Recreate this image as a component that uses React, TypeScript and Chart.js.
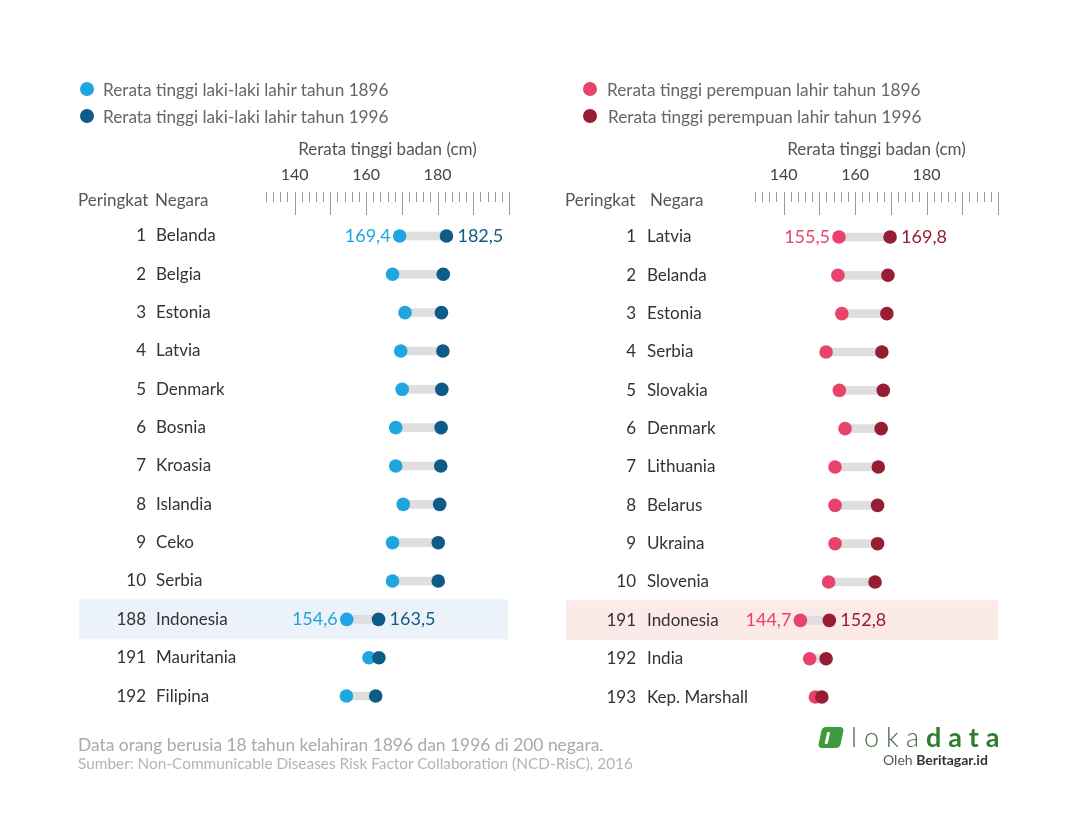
import React, { useEffect, useRef } from "react";
import { Chart, registerables } from "chart.js";

Chart.register(...registerables);

const FONT = "Lato, 'Open Sans', sans-serif";

// ---------- Data: men (left panel) ----------
const menRanks = [1, 2, 3, 4, 5, 6, 7, 8, 9, 10, 188, 191, 192];
const menCountries = ["Belanda", "Belgia", "Estonia", "Latvia", "Denmark", "Bosnia", "Kroasia", "Islandia", "Ceko", "Serbia", "Indonesia", "Mauritania", "Filipina"];
const men1896 = [169.4, 167.4, 170.9, 169.7, 170.1, 168.3, 168.3, 170.4, 167.4, 167.4, 154.6, 160.8, 154.5];
const men1996 = [182.5, 181.6, 181.1, 181.5, 181.2, 181.0, 180.9, 180.6, 180.2, 180.2, 163.5, 163.6, 162.7];
const menLabelled = ["Belanda", "Indonesia"];

// ---------- Data: women (right panel) ----------
const womenRanks = [1, 2, 3, 4, 5, 6, 7, 8, 9, 10, 191, 192, 193];
const womenCountries = ["Latvia", "Belanda", "Estonia", "Serbia", "Slovakia", "Denmark", "Lithuania", "Belarus", "Ukraina", "Slovenia", "Indonesia", "India", "Kep. Marshall"];
const women1896 = [155.5, 155.2, 156.3, 151.9, 155.6, 157.2, 154.4, 154.4, 154.4, 152.6, 144.7, 147.3, 148.9];
const women1996 = [169.8, 169.2, 168.9, 167.5, 167.9, 167.3, 166.5, 166.3, 166.3, 165.6, 152.8, 151.9, 150.7];
const womenLabelled = ["Latvia", "Indonesia"];

// ---------- Axis ----------
const axisMin = 132;
const axisMax = 200;
const minorStep = 2;
const majorStep = 10;
const tickLabels = [140, 160, 180];
const axisTitle = "Rerata tinggi badan (cm)";
const highlightCountry = "Indonesia";

const legendMen = ["Rerata tinggi laki-laki lahir tahun 1896", "Rerata tinggi laki-laki lahir tahun 1996"];
const legendWomen = ["Rerata tinggi perempuan lahir tahun 1896", "Rerata tinggi perempuan lahir tahun 1996"];

const W = 1079;
const H = 824;

type Panel = {
  ranks: number[];
  countries: string[];
  v1896: number[];
  v1996: number[];
  labelled: string[];
  light: string;
  dark: string;
  band: string;
  area: { left: number; right: number; top: number; bottom: number };
  bandLeft: number;
  bandRight: number;
  rankRight: number;
  countryLeft: number;
};

const fmt = (v: number) => v.toFixed(1).replace(".", ",");

function makePlugin(p: Panel) {
  return {
    id: "panelDecor",
    beforeDatasetsDraw(chart: any) {
      const ctx = chart.ctx;
      const y = chart.scales.y;
      const idx = p.countries.indexOf(highlightCountry);
      const cy = y.getPixelForValue(idx);
      ctx.save();
      ctx.fillStyle = p.band;
      ctx.fillRect(p.bandLeft, cy - 20, p.bandRight - p.bandLeft, 40);
      ctx.restore();
    },
    afterDatasetsDraw(chart: any) {
      const ctx = chart.ctx;
      const x = chart.scales.x;
      const y = chart.scales.y;
      ctx.save();
      // ruler
      ctx.strokeStyle = "#9a9a9a";
      ctx.lineWidth = 1;
      for (let v = axisMin; v <= axisMax + 0.001; v += minorStep) {
        const px = Math.round(x.getPixelForValue(v)) + 0.5;
        const major = Math.abs(v % majorStep) < 0.001;
        ctx.beginPath();
        ctx.moveTo(px, 192);
        ctx.lineTo(px, major ? 215 : 202);
        ctx.stroke();
      }
      ctx.fillStyle = "#444";
      ctx.font = `16px ${FONT}`;
      ctx.textAlign = "center";
      ctx.textBaseline = "middle";
      tickLabels.forEach((t) => ctx.fillText(String(t), x.getPixelForValue(t), 175));
      ctx.fillStyle = "#555";
      ctx.font = `17px ${FONT}`;
      ctx.fillText(axisTitle, (x.left + x.right) / 2, 150);

      // rows
      p.countries.forEach((c, i) => {
        const cy = y.getPixelForValue(i);
        ctx.font = `17px ${FONT}`;
        ctx.fillStyle = "#333";
        ctx.textAlign = "right";
        ctx.fillText(String(p.ranks[i]), p.rankRight, cy);
        ctx.textAlign = "left";
        ctx.fillText(c, p.countryLeft, cy);
        if (p.labelled.includes(c)) {
          ctx.font = `18px ${FONT}`;
          ctx.fillStyle = p.light;
          ctx.textAlign = "right";
          ctx.fillText(fmt(p.v1896[i]), x.getPixelForValue(p.v1896[i]) - 9, cy);
          ctx.fillStyle = p.dark;
          ctx.textAlign = "left";
          ctx.fillText(fmt(p.v1996[i]), x.getPixelForValue(p.v1996[i]) + 11, cy);
        }
      });
      ctx.restore();
    },
  };
}

function buildChart(canvas: HTMLCanvasElement, p: Panel) {
  return new Chart(canvas, {
    type: "bar",
    data: {
      labels: p.countries,
      datasets: [
        {
          type: "line",
          label: "1996",
          indexAxis: "y",
          data: p.v1996.map((v, i) => ({ x: v, y: p.countries[i] })),
          showLine: false,
          pointRadius: 6.8,
          pointBorderWidth: 0,
          pointBackgroundColor: p.dark,
          backgroundColor: p.dark,
          borderColor: p.dark,
          order: 0,
        } as any,
        {
          type: "line",
          label: "1896",
          indexAxis: "y",
          data: p.v1896.map((v, i) => ({ x: v, y: p.countries[i] })),
          showLine: false,
          pointRadius: 6.8,
          pointBorderWidth: 0,
          pointBackgroundColor: p.light,
          backgroundColor: p.light,
          borderColor: p.light,
          order: 1,
        } as any,
        {
          type: "bar",
          label: "range",
          data: p.v1896.map((v, i) => [v, p.v1996[i]]),
          backgroundColor: "#dedede",
          borderWidth: 0,
          barThickness: 8,
          order: 2,
        } as any,
      ],
    },
    options: {
      indexAxis: "y",
      animation: false,
      responsive: false,
      maintainAspectRatio: false,
      events: [],
      layout: {
        padding: {
          left: p.area.left,
          right: W - p.area.right,
          top: p.area.top,
          bottom: H - p.area.bottom,
        },
      },
      scales: {
        x: { type: "linear", min: axisMin, max: axisMax, display: false },
        y: { type: "category", display: false, offset: true },
      },
      plugins: { legend: { display: false }, tooltip: { enabled: false } },
    } as any,
    plugins: [makePlugin(p)],
  });
}

const menPanel: Panel = {
  ranks: menRanks,
  countries: menCountries,
  v1896: men1896,
  v1996: men1996,
  labelled: menLabelled,
  light: "#1fa6e0",
  dark: "#0d5b86",
  band: "#ecf2f9",
  area: { left: 266, right: 509, top: 216.8, bottom: 715.2 },
  bandLeft: 79,
  bandRight: 508,
  rankRight: 146,
  countryLeft: 156,
};

const womenPanel: Panel = {
  ranks: womenRanks,
  countries: womenCountries,
  v1896: women1896,
  v1996: women1996,
  labelled: womenLabelled,
  light: "#e8436b",
  dark: "#981c33",
  band: "#fbeae7",
  area: { left: 755, right: 998, top: 217.8, bottom: 716.2 },
  bandLeft: 566,
  bandRight: 998,
  rankRight: 636,
  countryLeft: 647,
};

function Txt(props: { x: number; y: number; size: number; color: string; children: any; weight?: number; extra?: any }) {
  return (
    <div
      style={{
        position: "absolute",
        left: props.x,
        top: props.y - 12,
        height: 24,
        lineHeight: "24px",
        fontSize: props.size,
        color: props.color,
        fontFamily: FONT,
        fontWeight: props.weight || 400,
        whiteSpace: "nowrap",
        ...(props.extra || {}),
      }}
    >
      {props.children}
    </div>
  );
}

function Dot(props: { x: number; y: number; color: string }) {
  return (
    <div
      style={{
        position: "absolute",
        left: props.x - 7,
        top: props.y - 7,
        width: 14,
        height: 14,
        borderRadius: 7,
        background: props.color,
      }}
    />
  );
}

export default function App() {
  const leftRef = useRef<HTMLCanvasElement>(null);
  const rightRef = useRef<HTMLCanvasElement>(null);

  useEffect(() => {
    const c1 = buildChart(leftRef.current!, menPanel);
    const c2 = buildChart(rightRef.current!, womenPanel);
    return () => {
      c1.destroy();
      c2.destroy();
    };
  }, []);

  const canvasStyle: any = { position: "absolute", left: 0, top: 0, width: W, height: H };

  return (
    <div style={{ position: "absolute", left: 0, top: 0, width: W, height: H, background: "#fff", overflow: "hidden" }}>
      <canvas ref={leftRef} width={W} height={H} style={canvasStyle} />
      <canvas ref={rightRef} width={W} height={H} style={canvasStyle} />

      <Dot x={87} y={89} color={menPanel.light} />
      <Dot x={87} y={116} color={menPanel.dark} />
      <Txt x={103} y={90} size={17.2} color="#666">{legendMen[0]}</Txt>
      <Txt x={103} y={117} size={17.2} color="#666">{legendMen[1]}</Txt>

      <Dot x={590} y={89} color={womenPanel.light} />
      <Dot x={590} y={116} color={womenPanel.dark} />
      <Txt x={607} y={90} size={17.2} color="#666">{legendWomen[0]}</Txt>
      <Txt x={608} y={117} size={17.2} color="#666">{legendWomen[1]}</Txt>

      <Txt x={78} y={200} size={17} color="#555">Peringkat</Txt>
      <Txt x={155} y={200} size={17} color="#555">Negara</Txt>
      <Txt x={565} y={200} size={17} color="#555">Peringkat</Txt>
      <Txt x={650} y={200} size={17} color="#555">Negara</Txt>

      <Txt x={78} y={745} size={17.4} color="#a9a9a9">Data orang berusia 18 tahun kelahiran 1896 dan 1996 di 200 negara.</Txt>
      <Txt x={78} y={763} size={15.4} color="#b4b4b4">Sumber: Non-Communicable Diseases Risk Factor Collaboration (NCD-RisC), 2016</Txt>

      <div
        style={{
          position: "absolute",
          left: 820,
          top: 727,
          width: 22,
          height: 21,
          background: "#3d9a3f",
          borderRadius: 4,
          transform: "skewX(-12deg)",
        }}
      >
        <div style={{ position: "absolute", left: 6, top: 5, width: 3, height: 12, background: "#fff", borderRadius: 1 }} />
      </div>
      <div
        style={{
          position: "absolute",
          left: 851,
          top: 721,
          height: 32,
          lineHeight: "32px",
          fontSize: 27,
          fontFamily: FONT,
          letterSpacing: 7,
          whiteSpace: "nowrap",
        }}
      >
        <span style={{ color: "#4d6b4d", fontWeight: 300 }}>loka</span>
        <span style={{ color: "#2f7d33", fontWeight: 700 }}>data</span>
      </div>
      <Txt x={883} y={760} size={14} color="#555">
        Oleh <b style={{ color: "#333" }}>Beritagar.id</b>
      </Txt>
    </div>
  );
}
